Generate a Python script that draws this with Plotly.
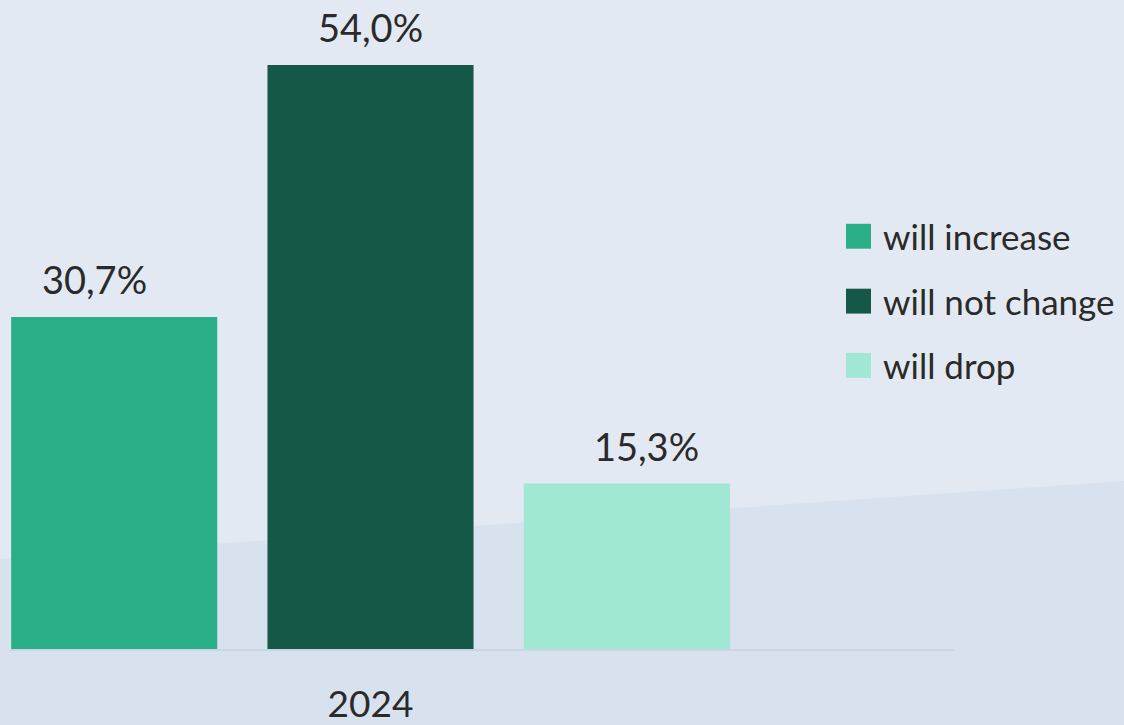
import plotly.graph_objects as go

categories = ["2024"]
series_names = ["will increase", "will not change", "will drop"]
series_values = [[30.7], [54.0], [15.3]]
series_colors = ["#2aae87", "#165847", "#a0e8d3"]

FONT = "Lato, 'Noto Sans', sans-serif"
TEXT_COLOR = "#2a2a2a"

fig = go.Figure()
for name, vals, col in zip(series_names, series_values, series_colors):
    fig.add_trace(go.Bar(
        x=categories, y=vals, name=name,
        marker=dict(color=col, line=dict(width=0)),
        showlegend=False, hoverinfo="skip",
    ))
# value labels (grouped scatter text traces)
for name, vals in zip(series_names, series_values):
    fig.add_trace(go.Scatter(
        x=categories, y=vals, name=name + " label",
        mode="markers+text",
        marker=dict(size=20, color="rgba(0,0,0,0)"),
        texttemplate="%{y:.1f}%", textposition="top center",
        textfont=dict(size=38, color=TEXT_COLOR, family=FONT),
        cliponaxis=False, showlegend=False, hoverinfo="skip",
    ))

# background lower diagonal band
fig.add_shape(type="path", xref="paper", yref="paper",
              path="M -0.02 0.138 L 1.2 0.261 L 1.2 -0.2 L -0.02 -0.2 Z",
              fillcolor="#d8e2ee", line=dict(width=0), layer="below")

# manual legend with large squares
leg_y = [0.636, 0.536, 0.437]
for name, col, yy in zip(series_names, series_colors, leg_y):
    fig.add_shape(type="rect", xref="paper", yref="paper",
                  x0=(846 - 10) / 945, x1=(871 - 10) / 945,
                  y0=yy - 12.5 / 652, y1=yy + 12.5 / 652,
                  fillcolor=col, line=dict(width=0))
    fig.add_annotation(xref="paper", yref="paper", x=(881 - 10) / 945, y=yy,
                       text=name, showarrow=False, xanchor="left", yanchor="middle",
                       font=dict(size=35, color=TEXT_COLOR, family=FONT))

fig.update_layout(
    width=1124, height=725,
    margin=dict(l=10, r=169, t=0, b=73),
    paper_bgcolor="#e2e9f3",
    plot_bgcolor="rgba(0,0,0,0)",
    barmode="group", bargap=0.0713, bargroupgap=0.196,
    scattermode="group", scattergap=0.0,
    separators=", ",
    font=dict(family=FONT, color=TEXT_COLOR, size=36),
    xaxis=dict(type="category", range=[-0.4354, 0.7059], showgrid=False,
               showline=True, linecolor="#c9d5e3", linewidth=2, ticks="",
               tickfont=dict(size=37, color=TEXT_COLOR, family=FONT), ticklabelstandoff=22),
    yaxis=dict(range=[0, 60], visible=False, showgrid=False, zeroline=False),
)

fig.write_html("out.html")
